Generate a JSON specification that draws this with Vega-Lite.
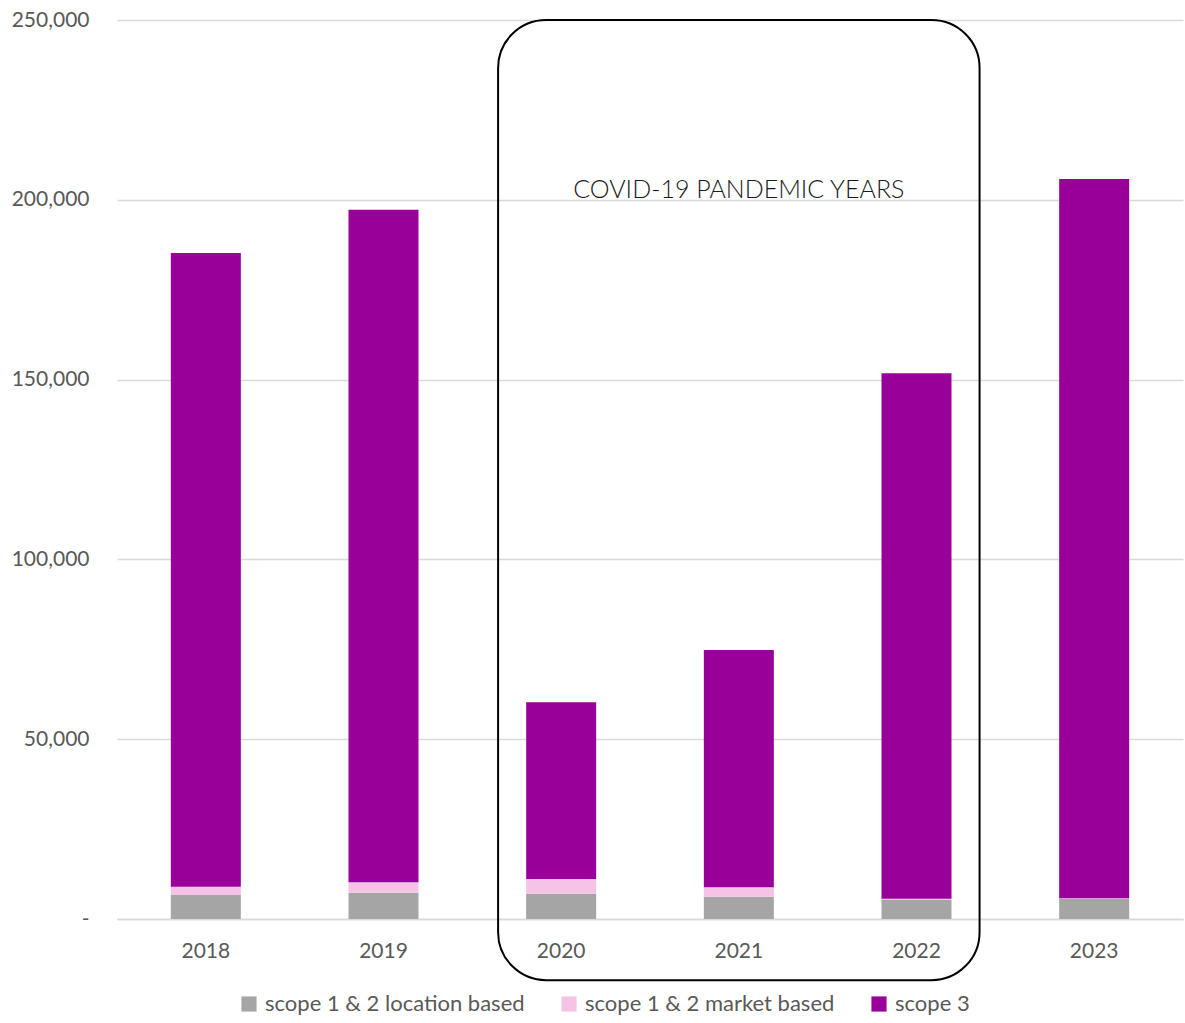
{
  "$schema": "https://vega.github.io/schema/vega-lite/v6.json",
  "width": 1066,
  "height": 899,
  "autosize": "none",
  "padding": {"left": 117, "top": 20, "right": 2, "bottom": 104},
  "background": "white",
  "config": {
    "view": {"stroke": null},
    "font": "Lato",
    "axis": {"labelFont": "Lato", "labelColor": "#595959", "labelFontSize": 21}
  },
  "data": {
    "values": [
      {"year": "2018", "series": "scope 1 & 2 location based", "value": 6700},
      {"year": "2018", "series": "scope 1 & 2 market based", "value": 2300},
      {"year": "2018", "series": "scope 3", "value": 176200},
      {"year": "2019", "series": "scope 1 & 2 location based", "value": 7300},
      {"year": "2019", "series": "scope 1 & 2 market based", "value": 2900},
      {"year": "2019", "series": "scope 3", "value": 187000},
      {"year": "2020", "series": "scope 1 & 2 location based", "value": 7000},
      {"year": "2020", "series": "scope 1 & 2 market based", "value": 4100},
      {"year": "2020", "series": "scope 3", "value": 49200},
      {"year": "2021", "series": "scope 1 & 2 location based", "value": 6200},
      {"year": "2021", "series": "scope 1 & 2 market based", "value": 2600},
      {"year": "2021", "series": "scope 3", "value": 66000},
      {"year": "2022", "series": "scope 1 & 2 location based", "value": 5400},
      {"year": "2022", "series": "scope 1 & 2 market based", "value": 200},
      {"year": "2022", "series": "scope 3", "value": 146200},
      {"year": "2023", "series": "scope 1 & 2 location based", "value": 5600},
      {"year": "2023", "series": "scope 1 & 2 market based", "value": 200},
      {"year": "2023", "series": "scope 3", "value": 200000}
    ]
  },
  "layer": [
    {
      "mark": {"type": "bar"},
      "encoding": {
        "x": {
          "field": "year", "type": "ordinal", "title": null,
          "scale": {"paddingInner": 0.606, "paddingOuter": 0.303},
          "axis": {"labelAngle": 0, "ticks": false, "domainColor": "#D9D9D9", "domainWidth": 1.5, "labelPadding": 21, "grid": false}
        },
        "y": {
          "field": "value", "type": "quantitative", "aggregate": "sum", "title": null,
          "scale": {"domain": [0, 250000], "nice": false},
          "axis": {
            "values": [0, 50000, 100000, 150000, 200000, 250000],
            "labelExpr": "datum.value == 0 ? '-\u00a0\u00a0\u00a0' : format(datum.value, ',')",
            "ticks": false, "domain": false, "gridColor": "#D9D9D9", "gridWidth": 1.3,
            "labelPadding": 28
          }
        },
        "color": {
          "field": "series", "type": "nominal", "title": null,
          "scale": {
            "domain": ["scope 1 & 2 location based", "scope 1 & 2 market based", "scope 3"],
            "range": ["#A5A5A5", "#F5C3E5", "#990099"]
          },
          "legend": {
            "orient": "none", "legendX": 121, "legendY": 973, "direction": "horizontal", "symbolType": "square",
            "symbolSize": 230, "symbolStrokeWidth": 0, "labelFontSize": 22, "labelColor": "#595959",
            "labelFont": "Lato", "labelLimit": 500, "columnPadding": 33, "labelOffset": 5
          }
        },
        "order": {"field": "series", "sort": "ascending"}
      }
    },
    {
      "data": {"values": [{"start": 2019.645, "end": 2022.355, "top": 250000, "bottom": -17000}]},
      "mark": {"type": "rect", "fill": null, "fillOpacity": 0, "stroke": "#000000", "strokeWidth": 2, "cornerRadius": 48, "clip": false},
      "encoding": {
        "x": {"field": "start", "type": "quantitative", "scale": {"domain": [2017.5, 2023.5], "nice": false, "zero": false}, "axis": null},
        "x2": {"field": "end"},
        "y": {"field": "top", "type": "quantitative"},
        "y2": {"field": "bottom"}
      }
    },
    {
      "data": {"values": [{"label": "COVID-19 PANDEMIC YEARS", "xpos": 2021, "ypos": 202700}]},
      "mark": {"type": "text", "fontSize": 25, "fontWeight": 300, "color": "#1a1a1a", "font": "Lato", "align": "center", "baseline": "middle"},
      "encoding": {
        "x": {"field": "xpos", "type": "quantitative", "scale": {"domain": [2017.5, 2023.5], "nice": false, "zero": false}, "axis": null},
        "y": {"field": "ypos", "type": "quantitative"},
        "text": {"field": "label"}
      }
    }
  ],
  "resolve": {"scale": {"x": "independent"}, "axis": {"x": "independent"}}
}
